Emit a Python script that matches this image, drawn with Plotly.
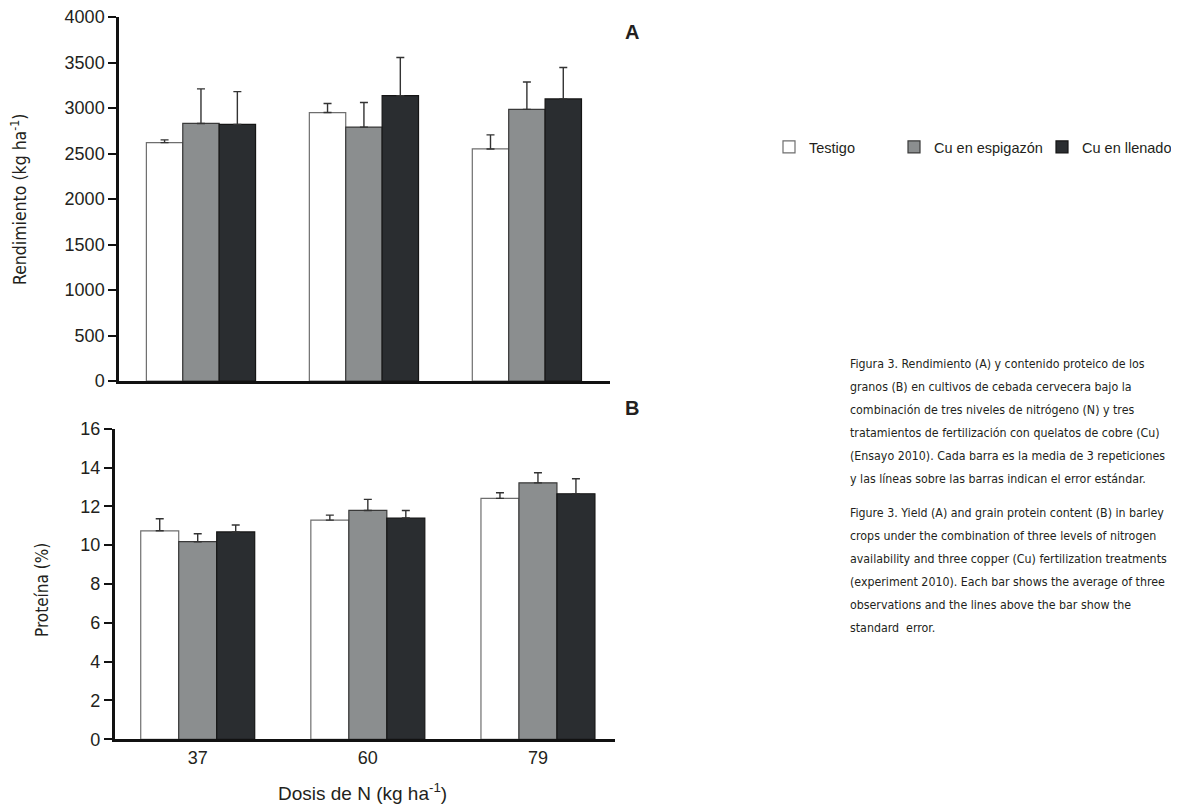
import plotly.graph_objects as go

# ---------------- data ----------------
doses = ["37", "60", "79"]
series_names = ["Testigo", "Cu en espigazón", "Cu en llenado"]

yield_testigo = [2620, 2950, 2550]
yield_espigazon = [2830, 2790, 2985]
yield_llenado = [2820, 3135, 3100]
yield_err_testigo = [30, 100, 155]
yield_err_espigazon = [380, 270, 300]
yield_err_llenado = [360, 420, 345]

prot_testigo = [10.74, 11.29, 12.41]
prot_espigazon = [10.18, 11.79, 13.21]
prot_llenado = [10.68, 11.40, 12.65]
prot_err_testigo = [0.62, 0.26, 0.29]
prot_err_espigazon = [0.41, 0.57, 0.52]
prot_err_llenado = [0.36, 0.39, 0.77]

yield_ticks = [0, 500, 1000, 1500, 2000, 2500, 3000, 3500, 4000]
prot_ticks = [0, 2, 4, 6, 8, 10, 12, 14, 16]

caption_es = [
    "Figura 3. Rendimiento (A) y contenido proteico de los",
    "granos (B) en cultivos de cebada cervecera bajo la",
    "combinación de tres niveles de nitrógeno (N) y tres",
    "tratamientos de fertilización con quelatos de cobre (Cu)",
    "(Ensayo 2010). Cada barra es la media de 3 repeticiones",
    "y las líneas sobre las barras indican el error estándar.",
]
caption_en = [
    "Figure 3. Yield (A) and grain protein content (B) in barley",
    "crops under the combination of three levels of nitrogen",
    "availability and three copper (Cu) fertilization treatments",
    "(experiment 2010). Each bar shows the average of three",
    "observations and the lines above the bar show the",
    "standard  error.",
]

# ---------------- styles ----------------
W, H = 1179, 805
fills = ["#ffffff", "#8b8e8f", "#2a2d30"]
outlines = ["#6e6e6e", "#3a3a3a", "#151515"]
ARIAL = "Liberation Sans, Arial, sans-serif"
COND = "DejaVu Sans Condensed, Liberation Sans Narrow, Arial Narrow, sans-serif"
TXT = "#231f20"


def px_x(v):
    return v / W


def px_y(v):
    return 1 - v / H


fig = go.Figure()

top_vals = [yield_testigo, yield_espigazon, yield_llenado]
top_errs = [yield_err_testigo, yield_err_espigazon, yield_err_llenado]
bot_vals = [prot_testigo, prot_espigazon, prot_llenado]
bot_errs = [prot_err_testigo, prot_err_espigazon, prot_err_llenado]
legend_ids = ["legend", "legend2", "legend3"]

for i, name in enumerate(series_names):
    fig.add_trace(go.Bar(
        x=doses, y=top_vals[i], name=name,
        marker=dict(color=fills[i], line=dict(color=outlines[i], width=1.2)),
        error_y=dict(type="data", symmetric=False, array=top_errs[i],
                     arrayminus=[0] * len(doses), color="#333333",
                     thickness=1.4, width=4),
        xaxis="x", yaxis="y", legend=legend_ids[i], showlegend=True,
    ))
for i, name in enumerate(series_names):
    fig.add_trace(go.Bar(
        x=doses, y=bot_vals[i], name=name,
        marker=dict(color=fills[i], line=dict(color=outlines[i], width=1.2)),
        error_y=dict(type="data", symmetric=False, array=bot_errs[i],
                     arrayminus=[0] * len(doses), color="#333333",
                     thickness=1.4, width=4),
        xaxis="x2", yaxis="y2", showlegend=False,
    ))

axis_common = dict(showgrid=False, zeroline=False, showline=True,
                   linecolor="#111111", linewidth=2.5)

legend_x = [761, 886, 1034]
leg_common = dict(orientation="h", xanchor="left", yanchor="middle",
                  font=dict(size=14.5, family=ARIAL, color=TXT),
                  bgcolor="rgba(0,0,0,0)", borderwidth=0)

fig.update_layout(
    width=W, height=H,
    margin=dict(l=0, r=0, t=0, b=0, autoexpand=False),
    paper_bgcolor="white", plot_bgcolor="white",
    barmode="group", bargap=0.33, bargroupgap=0.0,
    font=dict(family=ARIAL, size=18, color=TXT),
    xaxis=dict(domain=[px_x(111), px_x(602)], anchor="y", type="category",
               range=[-0.503, 2.51], showticklabels=False, ticks="",
               **axis_common),
    yaxis=dict(domain=[px_y(373), px_y(9)], anchor="x", range=[0, 4000],
               tickvals=yield_ticks, ticks="outside", ticklen=8, tickwidth=2,
               tickcolor="#111111", ticklabeloverflow="allow",
               tickfont=dict(size=18, family=ARIAL, color=TXT),
               **axis_common),
    xaxis2=dict(domain=[px_x(106.7), px_x(606.5)], anchor="y2", type="category",
                range=[-0.488, 2.45], ticks="",
                tickfont=dict(size=18, family=ARIAL, color=TXT),
                **axis_common),
    yaxis2=dict(domain=[px_y(731.3), px_y(420.7)], anchor="x2", range=[0, 16],
                tickvals=prot_ticks, ticks="outside", ticklen=8, tickwidth=2,
                tickcolor="#111111", ticklabeloverflow="allow",
                tickfont=dict(size=18, family=ARIAL, color=TXT),
                **axis_common),
    legend=dict(x=px_x(legend_x[0]), y=px_y(139), **leg_common),
    legend2=dict(x=px_x(legend_x[1]), y=px_y(139), **leg_common),
    legend3=dict(x=px_x(legend_x[2]), y=px_y(139), **leg_common),
    showlegend=True,
)


def note(text, x, y, size, family, angle=0, xanchor="center", yanchor="middle"):
    return dict(text=text, x=px_x(x), y=px_y(y), xref="paper", yref="paper",
                xanchor=xanchor, yanchor=yanchor, showarrow=False, textangle=angle,
                font=dict(size=size, family=family, color=TXT))


ann = [
    note("<b>A</b>", 624, 24, 20, ARIAL),
    note("<b>B</b>", 624, 400, 20, ARIAL),
    note("Rendimiento (kg ha<sup>-1</sup>)", 11, 192, 17.5, COND, angle=-90),
    note("Proteína (%)", 34, 582, 17, COND, angle=-90),
    note("Dosis de N (kg ha<sup>-1</sup>)", 354, 784, 19, ARIAL),
]
for k, line in enumerate(caption_es):
    ann.append(note(line, 840, 356 + 23 * k, 12.3, COND, xanchor="left"))
for k, line in enumerate(caption_en):
    ann.append(note(line, 840, 505 + 23 * k, 12.3, COND, xanchor="left"))
fig.update_layout(annotations=ann)

fig.write_html("out.html")
